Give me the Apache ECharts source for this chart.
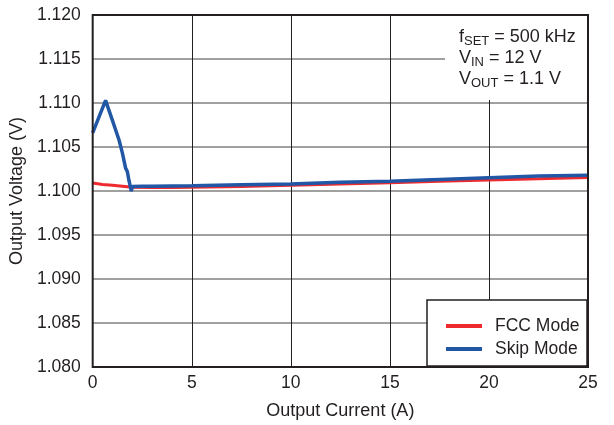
<!DOCTYPE html>
<html><head><meta charset="utf-8">
<script src="https://cdn.jsdelivr.net/npm/echarts@6/dist/echarts.min.js"></script>
<style>html,body{margin:0;padding:0;background:#fff}#c{width:614px;height:425px}</style>
</head><body><div id="c"></div>
<script>
var fccX = [0, 0.5, 1, 1.5, 2, 3, 4, 5, 7.5, 10, 12.5, 15, 17.5, 20, 22.5, 25];
var fccY = [1.10090, 1.10075, 1.10065, 1.10055, 1.10042, 1.10040, 1.10040, 1.10042, 1.10050, 1.10065, 1.10080, 1.10095, 1.10110, 1.10125, 1.10138, 1.10152];
var skipX = [0, 0.65, 1.0, 1.33, 1.5, 1.66, 1.7, 1.75, 1.83, 1.9, 1.95, 2.0, 2.5, 3, 5, 7.5, 10, 12.5, 15, 17.5, 20, 22.5, 25];
var skipY = [1.1066, 1.1103, 1.1080, 1.1058, 1.1043, 1.1026, 1.1024, 1.1022, 1.1012, 1.1005, 1.1000, 1.1005, 1.10055, 1.10055, 1.1006, 1.1007, 1.1008, 1.1010, 1.1011, 1.1013, 1.1015, 1.1017, 1.1018];
var seriesNames = ['FCC Mode', 'Skip Mode'];

function pairs(xs, ys){ return xs.map(function(x,i){ return [x, ys[i]]; }); }
var FONT = 'Liberation Sans, Arial, Helvetica, sans-serif';
var INK = '#231f20';
var chart = echarts.init(document.getElementById('c'));
chart.setOption({
  animation: false,
  backgroundColor: '#fff',
  textStyle: {fontFamily: FONT},
  grid: {left: 92, top: 15, width: 496, height: 352, show: true, borderColor: INK, borderWidth: 2, backgroundColor: 'transparent', z: 70},
  xAxis: {
    type: 'value', min: 0, max: 25, interval: 5,
    name: 'Output Current (A)', nameLocation: 'middle', nameGap: 35,
    nameTextStyle: {fontSize: 18, color: INK, fontFamily: FONT},
    axisLine: {show: false}, axisTick: {show: false},
    axisLabel: {fontSize: 17.5, color: INK, margin: 7, fontFamily: FONT},
    splitLine: {show: true, lineStyle: {color: INK, width: 1}}
  },
  yAxis: {
    type: 'value', min: 1.080, max: 1.120, interval: 0.005,
    name: 'Output Voltage (V)', nameLocation: 'middle', nameGap: 61,
    nameTextStyle: {fontSize: 18, color: INK, fontFamily: FONT},
    axisLine: {show: false}, axisTick: {show: false},
    axisLabel: {fontSize: 17.5, color: INK, margin: 12, fontFamily: FONT,
      formatter: function(v){ return v.toFixed(3); }},
    splitLine: {show: true, lineStyle: {color: '#808080', width: 1.5}}
  },
  legend: {
    orient: 'vertical', left: 441, top: 312, itemGap: 5, itemWidth: 36, itemHeight: 4,
    icon: 'rect', data: seriesNames, z: 100,
    textStyle: {fontSize: 17.5, color: INK, padding: [0,0,0,8], fontFamily: FONT}
  },
  graphic: [
    {type: 'rect', shape: {x: 445, y: 16, width: 142, height: 84}, style: {fill: '#fff'}, z: 50},
    {type: 'rect', shape: {x: 427, y: 300, width: 160, height: 66}, style: {fill: '#fff', stroke: INK, lineWidth: 1.5}, z: 50},
    {type: 'text', left: 459, top: 28, z: 60, style: {
      text: '{a|f}{s|SET}{a| = 500 kHz}\n{a|V}{s|IN}{a| = 12 V}\n{a|V}{s|OUT}{a| = 1.1 V}',
      rich: {
        a: {fontSize: 18, lineHeight: 21, fill: INK, fontFamily: FONT},
        s: {fontSize: 13, lineHeight: 12, verticalAlign: 'bottom', fill: INK, fontFamily: FONT}
      }
    }}
  ],
  series: [
    {name: seriesNames[0], type: 'line', data: pairs(fccX, fccY), showSymbol: false, symbol: 'none', color: '#ee2a2f', lineStyle: {width: 3, color: '#ee2a2f'}, z: 3},
    {name: seriesNames[1], type: 'line', data: pairs(skipX, skipY), showSymbol: false, symbol: 'none', color: '#2157a5', lineStyle: {width: 3.5, color: '#2157a5'}, z: 4}
  ]
});
</script></body></html>
